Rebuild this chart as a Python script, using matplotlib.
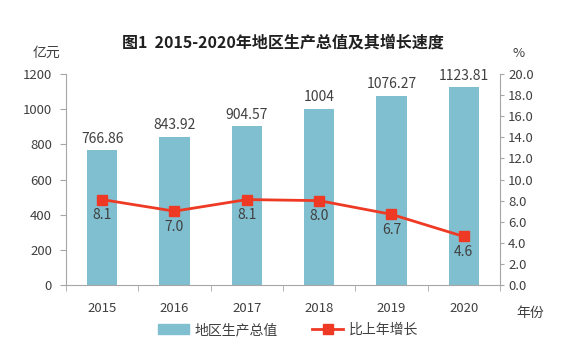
import matplotlib
matplotlib.use("Agg")
import matplotlib.pyplot as plt

plt.rcParams['font.family'] = ['Noto Sans CJK SC', 'DejaVu Sans']

years = ["2015", "2016", "2017", "2018", "2019", "2020"]
gdp = [766.86, 843.92, 904.57, 1004, 1076.27, 1123.81]
gdp_labels = ["766.86", "843.92", "904.57", "1004", "1076.27", "1123.81"]
growth = [8.1, 7.0, 8.1, 8.0, 6.7, 4.6]

bar_color = "#80BFCF"
line_color = "#EE3A24"
text_color = "#404040"
axis_color = "#A6A6A6"

fig = plt.figure(figsize=(5.65, 3.51), dpi=100)
ax = fig.add_axes([0.1168, 0.188, 0.768, 0.601])
x = list(range(len(years)))

ax.bar(x, gdp, width=0.42, color=bar_color, zorder=2)
for xi, v, lab in zip(x, gdp, gdp_labels):
    ax.text(xi, v + 25, lab, ha="center", va="bottom", fontsize=10, color=text_color)

ax.set_xlim(-0.5, len(years) - 0.5)
ax.set_ylim(0, 1200)
ax.set_yticks(range(0, 1201, 200))
ax.set_xticks(x)
ax.set_xticklabels(years)
ax.set_xticks([i - 0.5 for i in range(len(years) + 1)], minor=True)
ax.tick_params(axis="x", which="major", length=0, pad=12, labelsize=9.5, colors=text_color)
ax.tick_params(axis="x", which="minor", length=4, color=axis_color)
ax.tick_params(axis="y", length=4, pad=6, color=axis_color, labelsize=9.5, labelcolor=text_color)
for s in ["top", "right"]:
    ax.spines[s].set_visible(False)
for s in ["left", "bottom"]:
    ax.spines[s].set_color(axis_color)

ax2 = ax.twinx()
ax2.plot(x, growth, color=line_color, lw=2, marker="s", ms=7, zorder=3)
for xi, g in zip(x, growth):
    ax2.text(xi, g - 0.8, f"{g:.1f}", ha="center", va="top", fontsize=10, color=text_color)
ax2.set_ylim(0, 20)
ax2.set_yticks([i * 2 for i in range(11)])
ax2.set_yticklabels([f"{i * 2:.1f}" for i in range(11)])
ax2.tick_params(axis="y", length=3, pad=3, color=axis_color, labelsize=9.5, labelcolor=text_color)
for s in ["top", "left", "bottom"]:
    ax2.spines[s].set_visible(False)
ax2.spines["right"].set_color(axis_color)

fig.text(0.5, 0.88, "图1  2015-2020年地区生产总值及其增长速度", ha="center", va="center",
         fontsize=11.5, fontweight="bold", color="#202020")
fig.text(0.083, 0.849, "亿元", ha="center", va="center", fontsize=10, color=text_color)
fig.text(0.917, 0.849, "%", ha="center", va="center", fontsize=9.5, color=text_color)
fig.text(0.938, 0.108, "年份", ha="center", va="center", fontsize=10, color=text_color)

h1 = plt.Rectangle((0, 0), 1, 1, color=bar_color)
h2 = plt.Line2D([], [], color=line_color, lw=2, marker="s", ms=7)
fig.legend([h1, h2], ["地区生产总值", "比上年增长"], loc="center", bbox_to_anchor=(0.51, 0.06),
           ncol=2, frameon=False, fontsize=10, labelcolor=text_color, handlelength=2.2,
           handletextpad=0.4, columnspacing=2.5)

fig.savefig("out.png", dpi=100)
